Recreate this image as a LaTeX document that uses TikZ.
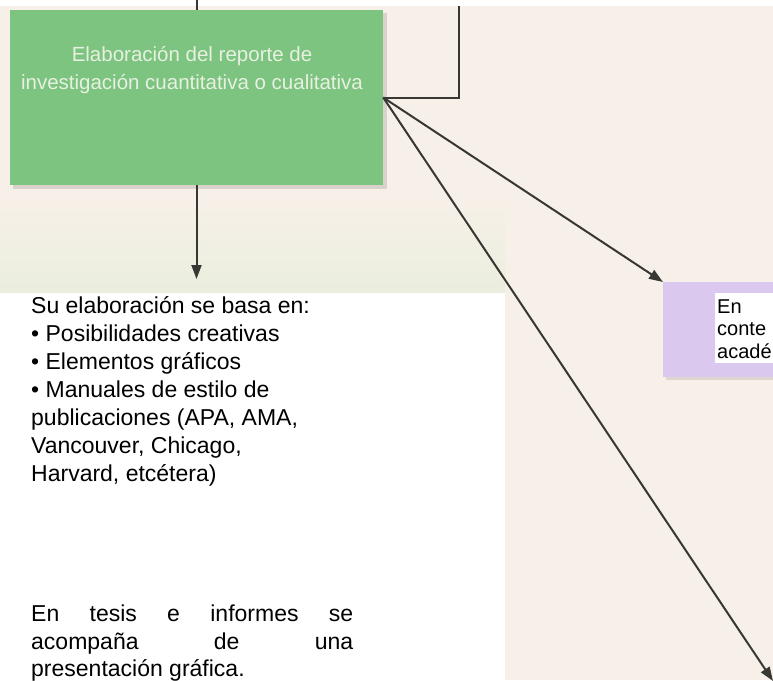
\documentclass[tikz,border=0pt]{standalone}
\usepackage{fontspec}
\setmainfont{Liberation Sans}
\usetikzlibrary{arrows.meta}
\definecolor{pagebg}{RGB}{247,240,232}
\definecolor{greentint}{RGB}{234,238,222}
\definecolor{boxgreen}{RGB}{124,196,127}
\definecolor{boxpurple}{RGB}{218,200,238}
\definecolor{greentext}{RGB}{232,240,226}
\definecolor{linegray}{RGB}{55,55,52}
\begin{document}
\begin{tikzpicture}[x=1pt,y=-1pt,
  conn/.style={draw=linegray, line width=2pt},
  arr/.style={conn, -{Triangle[length=14pt,width=10pt]}},
  greenbox/.style={fill=boxgreen, draw=none, inner sep=0pt, minimum width=373pt, minimum height=175pt},
  purplebox/.style={fill=boxpurple, draw=none, inner sep=0pt, anchor=north west, minimum width=130pt, minimum height=95pt},
  innerbox/.style={fill=white, draw=none, inner sep=0pt, anchor=north west, minimum width=70pt, minimum height=70pt},
  gtext/.style={text=greentext, inner sep=0pt, anchor=base, font=\fontsize{20.5}{28}\selectfont},
  btext/.style={text=black, inner sep=0pt, anchor=base west, font=\fontsize{23}{28}\selectfont},
  ctext/.style={text=black, inner sep=0pt, anchor=base west, font=\fontsize{20}{23}\selectfont}]
\useasboundingbox (0,0) rectangle (773,680);
\clip (0,0) rectangle (773,680);
% background (scanned page)
\fill[white] (0,0) rectangle (773,680);
\fill[pagebg] (0,6) rectangle (773,680);
\shade[top color=pagebg, bottom color=greentint] (0,200) rectangle (505,293);
\fill[white] (0,293) rectangle (505,680);
% green box with soft shadow
\fill[black, opacity=0.12] (13,13) rectangle (387,189);
\node[greenbox] (report) at (196.5,97.5) {};
\node[gtext] (g1) at (192,61) {Elaboración del reporte de};
\node[gtext] (g2) at (192,89) {investigación cuantitativa o cualitativa};
% purple box
\fill[black, opacity=0.10] (666,285) rectangle (773,380);
\node[purplebox] (ctx) at (663,282) {};
\node[innerbox] (ctxin) at (715,293) {};
\node[ctext] (c1) at (717,313) {En};
\node[ctext] (c2) at (717,335) {conte};
\node[ctext] (c3) at (717,358) {acadé};
% connectors
\coordinate (topin) at (197,0);
\coordinate (rin1) at (459,6);
\coordinate (rin2) at (459,97.5);
\coordinate (downend) at (196.5,279);
\coordinate (tip2) at (773,681);
\draw[conn] (topin) -- (report.north -| topin);
\draw[conn] (rin1) -- (rin2) -- (report.east);
\draw[arr] (report.south) -- (downend);
\draw[arr] (report.east) -- (ctx.north west);
\draw[arr] (report.east) -- (tip2);
% left texts
\node[btext] (l1) at (31,313) {Su elaboración se basa en:};
\node[btext] (l2) at (31,341) {• Posibilidades creativas};
\node[btext] (l3) at (31,369) {• Elementos gráficos};
\node[btext] (l4) at (31,397) {• Manuales de estilo de};
\node[btext] (l5) at (31,425) {publicaciones (APA, AMA,};
\node[btext] (l6) at (31,453) {Vancouver, Chicago,};
\node[btext] (l7) at (31,481) {Harvard, etcétera)};
\node[btext] (p1) at (31,621) {\makebox[322pt][s]{En tesis e informes se}};
\node[btext] (p2) at (31,649) {\makebox[322pt][s]{acompaña de una}};
\node[btext] (p3) at (31,676) {presentación gráfica.};
\end{tikzpicture}
\end{document}
